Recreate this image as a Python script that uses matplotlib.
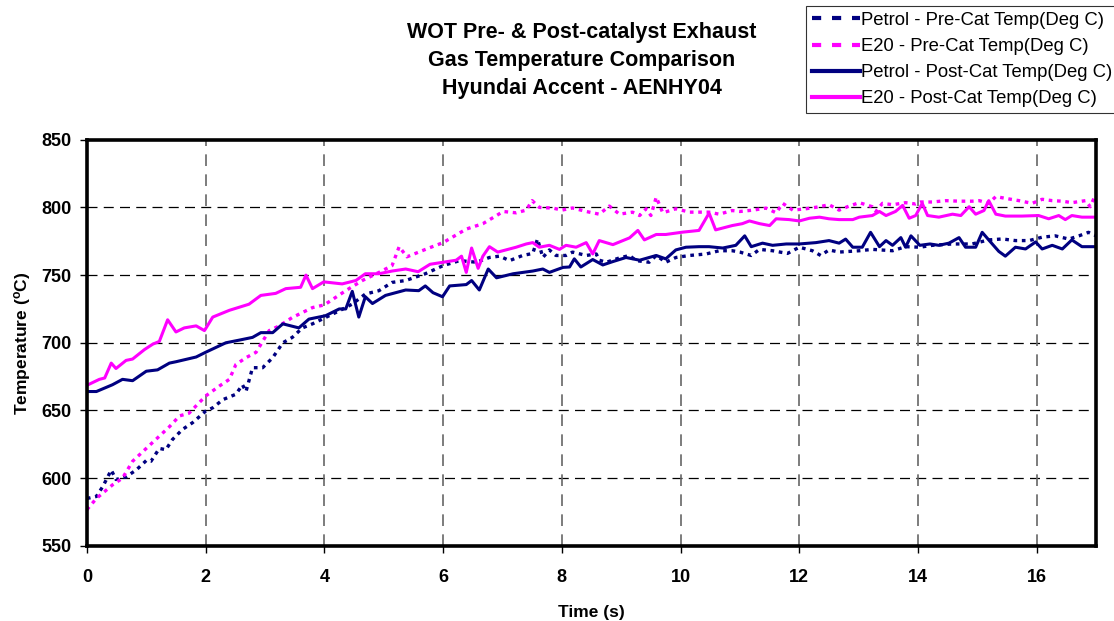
import numpy as np
import matplotlib.pyplot as plt
from matplotlib.lines import Line2D

plt.rcParams['font.family'] = ['Liberation Sans', 'DejaVu Sans']
plt.rcParams['mathtext.fontset'] = 'custom'
plt.rcParams['mathtext.rm'] = 'Liberation Sans'
plt.rcParams['mathtext.bf'] = 'Liberation Sans:bold'

NAVY = "#000080"
MAGENTA = "#ff00ff"

# Petrol - Pre-Cat
petrol_pre_t = [0, 0.16, 0.27, 0.41, 0.49, 0.66, 0.83, 1.0, 1.08, 1.22, 1.33, 1.44, 1.61, 1.78,
                2.0, 2.12, 2.29, 2.51, 2.62, 2.68, 2.79, 2.96, 3.13, 3.30, 3.46, 3.63, 3.80,
                4.02, 4.25, 4.47, 4.69, 4.92, 5.14, 5.37, 5.70, 6.0, 6.28, 6.56, 6.78, 6.95,
                7.12, 7.34, 7.51, 7.59, 7.68, 7.79, 7.90, 8.07, 8.18, 8.41, 8.58, 8.63, 8.75,
                8.97, 9.14, 9.25, 9.47, 9.59, 9.75, 9.92, 10.15, 10.43, 10.65, 10.87, 11.0,
                11.19, 11.33, 11.55, 11.80, 12.0, 12.22, 12.36, 12.50, 12.67, 13.01, 13.23,
                13.57, 13.79, 14.03, 14.24, 14.58, 14.91, 15.19, 15.42, 15.64, 15.87, 16.09,
                16.31, 16.54, 16.71, 16.87, 17.0]
petrol_pre = [585, 586.5, 594, 606, 599, 601, 606, 613, 612.5, 622, 621, 628.5, 636, 641,
              649.5, 652, 658, 662, 669, 664, 681.6, 681.6, 689, 700, 704, 711, 714,
              718.7, 723.6, 728.6, 736, 738.5, 744.6, 746, 751, 757, 760.7, 759.5, 763, 764,
              760.7, 764.5, 766, 776.7, 763, 768.6, 764.5, 764.5, 767, 764.5, 765.6, 761, 759.5,
              762.7, 764.5, 760.7, 759.5, 764.5, 759.5, 763, 764.5, 765.6, 768, 768, 767,
              764.5, 769, 768, 766, 770.6, 768, 764.5, 768.6, 767, 768, 769,
              768, 771, 770.6, 772, 773, 773, 776, 776.7, 775.5, 775.5, 778,
              779, 776.6, 779, 781.6, 779]

# E20 - Pre-Cat
e20_pre_t = [0, 0.16, 0.43, 0.6, 0.77, 1.0, 1.22, 1.39, 1.56, 1.72, 2.0, 2.23, 2.40, 2.51,
             2.68, 2.85, 3.07, 3.24, 3.46, 3.80, 4.0, 4.36, 4.64, 4.92, 5.14, 5.26, 5.39,
             5.59, 5.76, 6.0, 6.39, 6.67, 6.90, 7.01, 7.23, 7.40, 7.50, 7.62, 7.85, 8.0,
             8.18, 8.41, 8.63, 8.80, 8.97, 9.19, 9.31, 9.42, 9.50, 9.59, 9.70, 9.92, 10.15,
             10.48, 10.65, 10.87, 11.0, 11.22, 11.44, 11.61, 11.72, 11.89, 12.11, 12.34,
             12.50, 12.67, 12.84, 13.01, 13.23, 13.29, 13.40, 13.57, 13.79, 13.96, 14.04,
             14.24, 14.47, 14.69, 14.91, 15.03, 15.19, 15.31, 15.47, 15.70, 15.92, 16.09,
             16.26, 16.43, 16.59, 16.82, 16.90, 16.97]
e20_pre = [576.7, 585, 595, 600, 612.5, 622, 631, 638, 646, 648, 660.7, 668, 673, 684,
           689, 693, 709, 712.5, 718.7, 726, 728, 738.5, 746, 752, 757, 771, 763.5,
           767, 770, 774, 784, 788, 794, 797, 796, 798, 805, 800, 799.5, 798,
           799.6, 797, 795, 801, 795, 796.5, 794, 799, 794, 807.6, 796, 799, 796.5,
           796.5, 795, 797.7, 797, 798, 799.5, 796, 803, 798, 799, 800.5,
           802, 798, 801, 803.5, 800.5, 797, 803, 802, 803.5, 802.5, 804,
           804, 805, 804.6, 804.6, 805, 803, 808, 806.7, 805, 803, 806,
           805, 804.6, 803.5, 805, 800.5, 807.5]

# Petrol - Post-Cat
petrol_post_t = [0, 0.16, 0.43, 0.6, 0.77, 1.0, 1.19, 1.39, 1.50, 1.84, 2.0, 2.17, 2.34, 2.57,
                 2.79, 2.93, 3.13, 3.30, 3.57, 3.74, 4.02, 4.25, 4.36, 4.47, 4.58, 4.69, 4.81,
                 5.03, 5.37, 5.59, 5.70, 5.83, 5.99, 6.11, 6.39, 6.48, 6.61, 6.76, 6.90, 7.18,
                 7.51, 7.68, 7.79, 8.02, 8.13, 8.21, 8.32, 8.52, 8.69, 8.86, 9.08, 9.31, 9.59,
                 9.75, 9.92, 10.09, 10.31, 10.48, 10.71, 10.93, 11.08, 11.19, 11.38, 11.55,
                 11.78, 12.0, 12.28, 12.50, 12.67, 12.78, 12.90, 13.06, 13.20, 13.35, 13.46,
                 13.57, 13.71, 13.79, 13.88, 14.03, 14.20, 14.35, 14.52, 14.69, 14.80, 14.97,
                 15.08, 15.19, 15.36, 15.47, 15.64, 15.81, 15.98, 16.09, 16.26, 16.43, 16.59,
                 16.76, 17.0]
petrol_post = [664, 664, 669, 673, 672, 679, 680, 685, 686, 689.5, 693, 696.5, 700, 702,
               704, 707.5, 707.5, 714, 711, 717.5, 720, 725, 725, 738, 719, 734, 729,
               735, 739, 738.5, 742, 737, 734, 742, 743, 746, 739, 754.5, 748, 751,
               753, 754.5, 752, 755.7, 756, 762, 756, 761.5, 757.5, 760, 763, 761, 764.5,
               762, 768.6, 770.6, 771, 771, 770, 772, 779, 771, 773.6, 772,
               773, 773, 774, 775.5, 773.6, 776.6, 770.6, 770.6, 781.6, 771, 775.5,
               772, 777.7, 770.6, 779, 772, 773, 772, 773.6, 777.7, 770.6, 770.6,
               781.6, 776, 767.5, 764, 770.6, 769.3, 774.5, 769.3, 772, 769.3, 776,
               771, 771]

# E20 - Post-Cat
e20_post_t = [0, 0.21, 0.30, 0.41, 0.49, 0.66, 0.77, 0.97, 1.11, 1.22, 1.36, 1.50, 1.64, 1.84,
              1.98, 2.12, 2.40, 2.73, 2.93, 3.18, 3.35, 3.60, 3.69, 3.80, 3.99, 4.30, 4.53,
              4.69, 4.92, 5.14, 5.37, 5.58, 5.78, 6.0, 6.22, 6.31, 6.39, 6.48, 6.59, 6.67,
              6.78, 6.92, 7.23, 7.40, 7.51, 7.62, 7.79, 7.96, 8.07, 8.24, 8.41, 8.52, 8.63,
              8.86, 9.14, 9.28, 9.39, 9.59, 9.75, 10.03, 10.31, 10.48, 10.59, 10.87, 11.04,
              11.16, 11.33, 11.50, 11.61, 11.83, 12.0, 12.17, 12.34, 12.50, 12.67, 12.90,
              13.01, 13.23, 13.35, 13.46, 13.62, 13.74, 13.85, 13.96, 14.07, 14.16, 14.35,
              14.58, 14.72, 14.86, 14.97, 15.11, 15.19, 15.31, 15.47, 15.75, 16.03, 16.20,
              16.37, 16.48, 16.59, 16.76, 17.0]
e20_post = [668.6, 673, 674, 685, 681, 687, 688, 695, 699, 701, 717, 708, 711, 712.5,
            709, 719, 724, 728.5, 735, 736.5, 740, 741, 750, 740, 745, 743.5, 746,
            751, 751, 753, 754.5, 752.5, 758, 759.5, 761, 764, 752, 770, 755, 764,
            771, 767, 770.6, 773, 774, 770.6, 772, 769, 772, 770.6, 774, 765.6, 775.5,
            772.5, 777.5, 783, 776, 780, 780, 781.7, 783, 795.8, 783.4, 786.6, 788,
            790, 788, 786.6, 791.6, 791, 790, 792, 792.8, 791.6, 791, 791,
            792.8, 794, 797, 794, 797, 801.5, 792, 794, 803, 794, 792.8,
            795, 794, 800.5, 795, 797.7, 805, 795, 793.6, 793.6, 794, 791.6,
            794, 791, 794, 792.8, 792.8]

labels = ["Petrol - Pre-Cat Temp(Deg C)", "E20 - Pre-Cat Temp(Deg C)",
          "Petrol - Post-Cat Temp(Deg C)", "E20 - Post-Cat Temp(Deg C)"]

fig = plt.figure(figsize=(11.14, 6.21), dpi=100)
ax = fig.add_axes([0.078, 0.121, 0.906, 0.654])

dot = (0, (1.1, 1.4))
ax.plot(petrol_pre_t, petrol_pre, color=NAVY, lw=2.4, linestyle=dot)
ax.plot(e20_pre_t, e20_pre, color=MAGENTA, lw=2.4, linestyle=dot)
ax.plot(petrol_post_t, petrol_post, color=NAVY, lw=2.2)
ax.plot(e20_post_t, e20_post, color=MAGENTA, lw=2.2)

ax.set_xlim(0, 17)
ax.set_ylim(550, 850)
ax.set_xticks(np.arange(0, 17, 2))
ax.set_yticks(np.arange(550, 851, 50))
for y in np.arange(600, 850, 50):
    ax.axhline(y, color="black", lw=0.9, linestyle=(0, (8, 5)), zorder=0)
for x in np.arange(2, 17, 2):
    ax.axvline(x, color="#666666", lw=1.2, linestyle=(0, (7, 5)), zorder=0)

for s in ax.spines.values():
    s.set_linewidth(2.6)
ax.tick_params(axis="both", direction="out", length=5, width=1, labelsize=13)
ax.tick_params(axis="x", pad=12)
ax.tick_params(axis="y", pad=6)
for lab in ax.get_xticklabels() + ax.get_yticklabels():
    lab.set_fontweight("bold")

ax.set_xlabel("Time (s)", fontsize=12.5, fontweight="bold", labelpad=13)
ax.set_ylabel(r"Temperature ($\mathbf{^{o}}$C)", fontsize=12.5, fontweight="bold", labelpad=6)

fig.text(0.522, 0.965, "WOT Pre- & Post-catalyst Exhaust\nGas Temperature Comparison\nHyundai Accent - AENHY04",
         ha="center", va="top", fontsize=15.5, fontweight="bold", linespacing=1.45)

handles = [Line2D([], [], color=NAVY, lw=3, linestyle=(0, (2.2, 2.6))),
           Line2D([], [], color=MAGENTA, lw=3, linestyle=(0, (2.2, 2.6))),
           Line2D([], [], color=NAVY, lw=3),
           Line2D([], [], color=MAGENTA, lw=3)]
leg = fig.legend(handles, labels, loc="upper left", bbox_to_anchor=(0.7235, 0.99), fontsize=13.3,
                 frameon=True, fancybox=False, edgecolor="black", handlelength=2.6,
                 handletextpad=0.1, borderpad=0.3, labelspacing=0.5, borderaxespad=0)
leg.get_frame().set_linewidth(0.8)

plt.savefig("out.png", dpi=100)
